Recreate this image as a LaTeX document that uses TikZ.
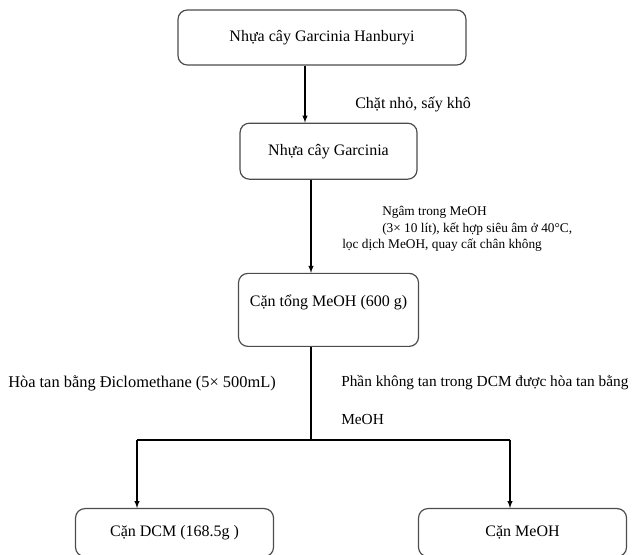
\documentclass[tikz,border=0pt]{standalone}
\usepackage{fontspec}
\setmainfont{Liberation Serif}
\usetikzlibrary{positioning}

\begin{document}
\begin{tikzpicture}[x=0.75pt, y=-0.75pt, >=latex,
  box/.style={draw=black!70, line width=0.9pt, rounded corners=7pt, align=center, font=\fontsize{12}{14.5}\selectfont},
  lbl/.style={inner sep=0pt, anchor=west, font=\fontsize{12}{14.5}\selectfont},
  link/.style={line width=0.8pt}]

\useasboundingbox (0,0) rectangle (633,555);

% the chain of products
\node[box, minimum width=216pt, minimum height=41.25pt] (c1) at (322,37.5) {Nhựa cây Garcinia Hanburyi};
\node[box, minimum width=132.75pt, minimum height=42pt, below=42.75pt of c1, xshift=4.9pt] (c2) {Nhựa cây Garcinia};
\node[box, minimum width=135pt, minimum height=54.75pt, below=69.75pt of c2] (c3) {Cặn tổng MeOH (600 g)\\\mbox{}};
\node[box, minimum width=148.5pt, minimum height=36pt, below=120.75pt of c3, xshift=-115.5pt] (c4) {Cặn DCM (168.5g )};
\node[box, minimum width=156pt, minimum height=36pt, below=120.75pt of c3, xshift=145.5pt] (c5) {Cặn MeOH};

% steps
\node[lbl] (t1) at (355,104) {Chặt nhỏ, sấy khô};
\node[lbl, align=left, anchor=north west, font=\fontsize{10}{12.4}\selectfont] (t2) at (342,206)
  {\hspace*{30pt}Ngâm trong MeOH\\\hspace*{30pt}(3× 10 lít), kết hợp siêu âm ở 40°C,\\lọc dịch MeOH, quay cất chân không};
\node[lbl, font=\fontsize{12.3}{14.8}\selectfont] (t3) at (8,383) {Hòa tan bằng Điclomethane (5× 500mL)};
\node[lbl, align=left, anchor=north west, font=\fontsize{11.5}{14}\selectfont] (t4) at (341,375) {Phần không tan trong DCM được hòa tan bằng\\[14.5pt]MeOH};

% connectors
\coordinate (a1) at (305,0);
\coordinate (jm) at (311,440);
\coordinate (jl) at (137,440);
\coordinate (jr) at (510,440);

\draw[link, ->] (c1.south -| a1) -- (c2.north -| a1);
\draw[link, ->] (c2.south -| jm) -- (c3.north -| jm);
\draw[link] (c3.south -| jm) -- (jm);
\draw[link] (jl) -- (jr);
\draw[link, ->] (jl) -- (jl |- c4.north);
\draw[link, ->] (jr) -- (jr |- c5.north);

\end{tikzpicture}
\end{document}
